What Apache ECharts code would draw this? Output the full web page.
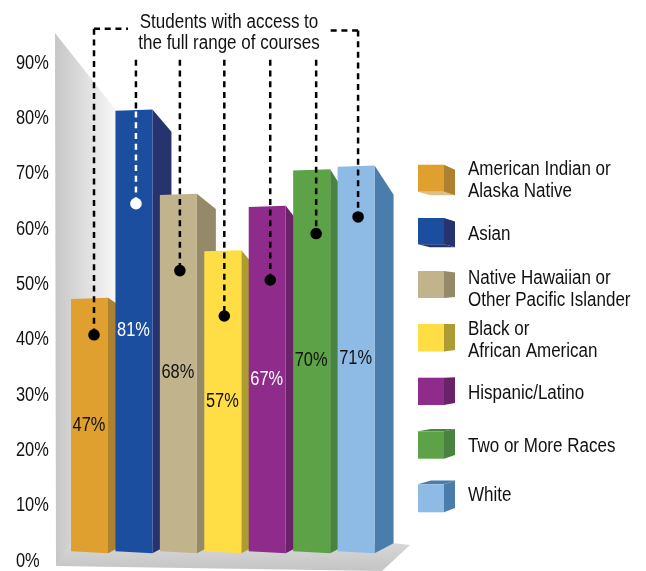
<!DOCTYPE html>
<html><head><meta charset="utf-8">
<style>html,body{margin:0;padding:0;background:#fff}#c{width:646px;height:571px}</style>
<script src="https://cdn.jsdelivr.net/npm/echarts@6/dist/echarts.min.js"></script></head>
<body><div id="c"></div>
<script>
const categories=['American Indian or\nAlaska Native','Asian','Native Hawaiian or\nOther Pacific Islander','Black or\nAfrican American','Hispanic/Latino','Two or More Races','White'];
const barHeights=[47.4,81.4,66.2,56,64,70.6,71.3];
const barLabels=['47%','81%','68%','57%','67%','70%','71%'];
const dotValues=[40.7,64.4,52.3,44.1,50.6,59,62];
const lineTops=[96,90.4,90.4,90.4,90.4,90.4,95.7];
const yTicks=[0,10,20,30,40,50,60,70,80,90];
const noteLines=['Students with access to','the full range of courses'];
const frontColors=['#E0A030','#1C4E9F','#C1B48C','#FFDD45','#8E2B8B','#5DA246','#8EBAE6'];
const sideColors=['#AD8130','#26336F','#948A6A','#AD9B33','#6A2369','#48833F','#4A7DAB'];
const labelColors=['#111','#fff','#111','#111','#fff','#111','#111'];
const sideSlopes=[0.67,1.17,0.8,1.2,1.3,1.6,1.54];
const dotOffsets=[4.5,2,1.5,1.5,3,4.5,2];
const cubeTop=[164.7,218,271,324,377.7,431.3,484.3];
const cubeHeight=[27,26.3,27,27.5,27.3,27.4,28];
const cubeRiseTop=[5,3.5,1.5,0,-0.5,-2.3,-3.8];
const cubeRiseBottom=[3.5,3,-1,-1.5,-2,-3.7,-4.3];
const legendTextY=[179,233,288.5,339,392,445,494];
const FONT='"Liberation Sans",Arial,sans-serif';
const FS=20, SX_NUM=0.82, SX_TEXT=0.85, DY=1;
const SIDE=19, BARW=37, BASE=1.4;
const dash=[6,4.7];

function textEl(s,x,y,align,scale,fill,z){
  return {type:'text',x:x,y:y+DY,scaleX:scale,z:z||0,silent:true,
    style:{text:s,x:0,y:0,align:align,verticalAlign:'middle',lineHeight:22,font:FS+'px '+FONT,fill:fill||'#111'}};
}
function barItem(params,api){
  const i=api.value(0), c=api.coord([i,api.value(1)]), b=api.coord([i,BASE]);
  const x0=c[0]-BARW/2, x1=x0+BARW, t=c[1], bt=b[1];
  return {type:'group',children:[
    {type:'polygon',shape:{points:[[x1,t],[x1+SIDE,t+SIDE*sideSlopes[i]],[x1+SIDE,bt-9],[x1,bt+1]]},style:{fill:sideColors[i]}},
    {type:'polygon',shape:{points:[[x0,t+1.2],[x1,t],[x1,bt+1],[x0,bt-1]]},style:{fill:frontColors[i]}},
    textEl(barLabels[i],c[0]-0.5,(t+bt)/2-1,'center',SX_NUM,labelColors[i])
  ]};
}
function leaderItem(params,api){
  const i=api.value(0), d=api.coord([i,api.value(1)]), u=api.coord([i,api.value(2)]);
  const x=d[0]+dotOffsets[i], inBlue=i===1;
  const top=api.coord([i,barHeights[i]])[1];
  const kids=[];
  const ls={stroke:'#000',lineWidth:2.5,lineDash:dash};
  if(inBlue){
    kids.push({type:'line',shape:{x1:x,y1:u[1],x2:x,y2:top},style:ls});
    kids.push({type:'line',shape:{x1:x,y1:top+2,x2:x,y2:d[1]},style:{stroke:'#fff',lineWidth:2.5,lineDash:dash}});
  } else {
    kids.push({type:'line',shape:{x1:x,y1:u[1],x2:x,y2:d[1]},style:ls});
  }
  if(i===0) kids.push({type:'line',shape:{x1:x,y1:u[1],x2:x+34,y2:u[1]},style:ls});
  if(i===6) kids.push({type:'line',shape:{x1:x,y1:u[1],x2:x-28,y2:u[1]},style:ls});
  kids.push({type:'circle',shape:{cx:x,cy:d[1],r:5.8},style:{fill:inBlue?'#fff':'#000'}});
  return {type:'group',children:kids};
}
function tickItem(params,api){
  const p=api.coord([0,api.value(1)]);
  return textEl(api.value(1)+'%',16,p[1],'left',SX_NUM);
}
const wall={type:'polygon',silent:true,z:0,shape:{points:[[55,33],[116,110],[116,552],[71,545],[56,566]]},
  style:{fill:{type:'linear',x:0,y:0,x2:1,y2:0,colorStops:[{offset:0,color:'#c6c6c6'},{offset:1,color:'#f7f7f7'}]}}};
const floor={type:'polygon',silent:true,z:0,shape:{points:[[56,566],[71,541],[393,543],[410,545],[382,571]]},
  style:{fill:{type:'linear',x:0,y:0,x2:0,y2:1,colorStops:[{offset:0,color:'#d8d9d8'},{offset:1,color:'#c4c4c4'}]}}};
const graphics=[wall,floor];
noteLines.forEach((s,k)=>graphics.push({type:'text',z:5,x:229,y:21+k*21+DY,scaleX:SX_TEXT,style:{text:s,x:0,y:0,align:'center',verticalAlign:'middle',font:FS+'px '+FONT,fill:'#111'}}));
categories.forEach((name,i)=>{
  const ft=cubeTop[i], fb=ft+cubeHeight[i], rt=cubeRiseTop[i], rb=cubeRiseBottom[i];
  if(rb>0) graphics.push({type:'polygon',z:5,shape:{points:[[418,fb],[444,fb],[455,fb+rb],[430,fb+rb]]},style:{fill:i===0?'#dcc08a':sideColors[i]}});
  if(rt<-1) graphics.push({type:'polygon',z:5,shape:{points:[[418,ft],[431,ft+rt],[455,ft+rt],[444,ft]]},style:{fill:sideColors[i]}});
  graphics.push({type:'polygon',z:5,shape:{points:[[444,ft],[455,ft+rt],[455,fb+rb],[444,fb]]},style:{fill:sideColors[i]}});
  graphics.push({type:'rect',z:5,shape:{x:418,y:ft,width:26,height:cubeHeight[i]},style:{fill:frontColors[i]}});
  graphics.push({type:'text',z:5,x:468,y:legendTextY[i]+DY,scaleX:SX_TEXT,style:{text:name,x:0,y:0,align:'left',verticalAlign:'middle',lineHeight:22,font:FS+'px '+FONT,fill:'#111'}});
});
const chart=echarts.init(document.getElementById('c'),null,{renderer:'canvas'});
chart.setOption({
  animation:false,
  graphic:graphics,
  grid:{left:67.3,top:62,width:311,height:498},
  xAxis:{type:'category',data:categories,show:false},
  yAxis:{type:'value',min:0,max:90,interval:10,axisLine:{show:false},axisTick:{show:false},splitLine:{show:false},axisLabel:{show:false}},
  series:[
    {type:'custom',name:'Tick labels',z:2,clip:false,renderItem:tickItem,encode:{y:1},data:yTicks.map(v=>[0,v])},
    {type:'custom',name:'All students',z:2,clip:false,renderItem:barItem,encode:{x:0,y:1},data:barHeights.map((v,i)=>[i,v])},
    {type:'custom',name:'Access',z:3,clip:false,renderItem:leaderItem,encode:{x:0,y:1},data:dotValues.map((v,i)=>[i,v,lineTops[i]])}
  ]
});
</script></body></html>
